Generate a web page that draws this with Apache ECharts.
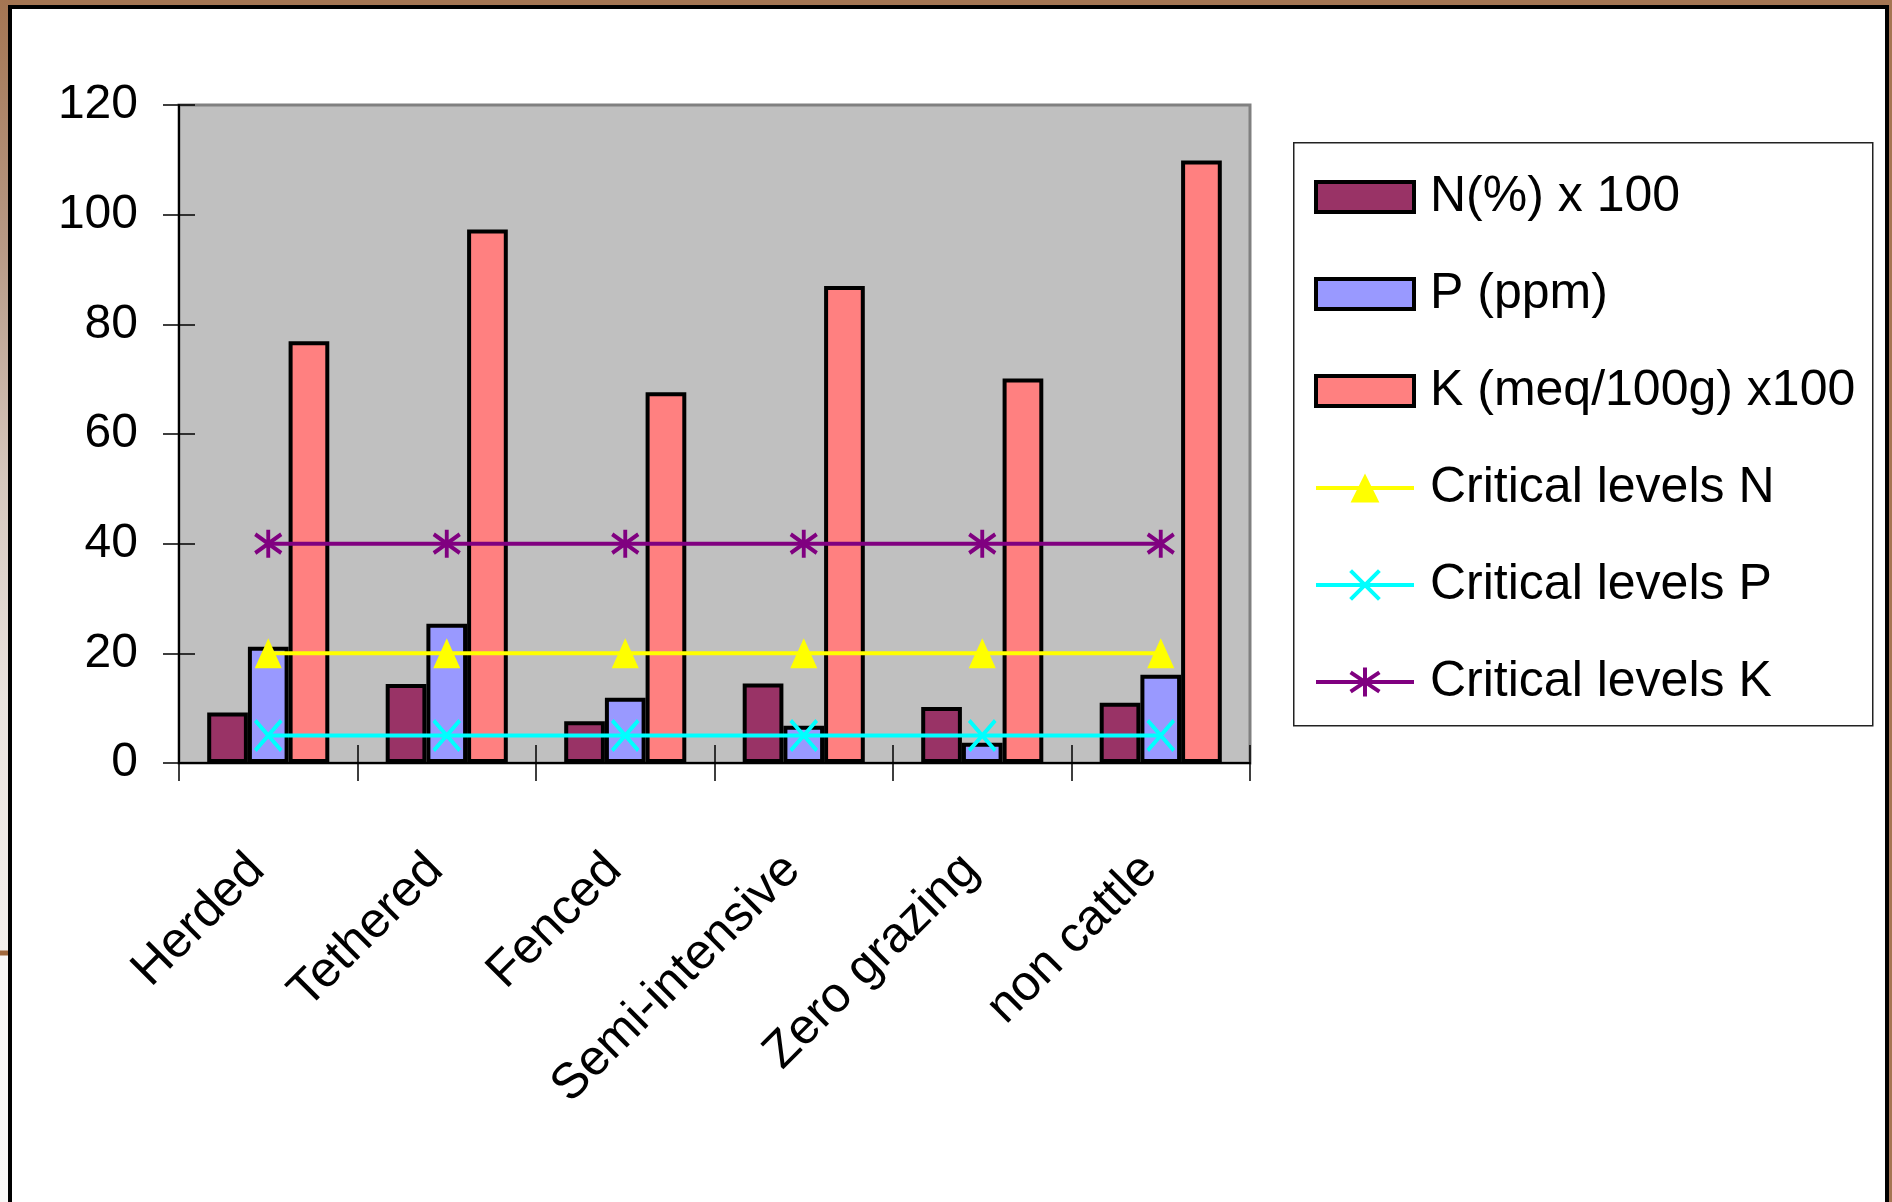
<!DOCTYPE html>
<html>
<head>
<meta charset="utf-8">
<script src="https://cdn.jsdelivr.net/npm/echarts@6/dist/echarts.min.js"></script>
<style>
  html, body { margin: 0; padding: 0; width: 1892px; height: 1202px; overflow: hidden; background: #ffffff; }
  #topstrip { position: absolute; left: 0; top: 0; width: 1892px; height: 5px; background: #A47552; }
  #leftstrip { position: absolute; left: 0; top: 0; width: 8px; height: 1202px;
    background: linear-gradient(to bottom, #A47552 0px, #B89A86 250px, #D6C8BE 480px, #EAE3DE 700px, #F3EFEB 950px, #A0683C 951px, #A0683C 955px, #F8F6F4 956px, #F9F8F7 1202px); }
  #rightstrip { position: absolute; left: 1889px; top: 0; width: 3px; height: 1202px; background: #A47552; }
  #frame { position: absolute; left: 8px; top: 5px; width: 1881px; height: 1197px; background: #ffffff;
    border-left: 4px solid #000; border-top: 4px solid #000; border-right: 4px solid #000; box-sizing: border-box; }
  #chart { position: absolute; left: 0; top: 0; width: 1892px; height: 1202px; }
</style>
</head>
<body>
<div id="topstrip"></div>
<div id="leftstrip"></div>
<div id="rightstrip"></div>
<div id="frame"></div>
<div id="chart"></div>
<script>
// ---- data ----
var categories = ['Herded', 'Tethered', 'Fenced', 'Semi-intensive', 'Zero grazing', 'non cattle'];
var seriesNames = ['N(%) x 100', 'P (ppm)', 'K (meq/100g) x100', 'Critical levels N', 'Critical levels P', 'Critical levels K'];
var nValues = [9.2, 14.4, 7.6, 14.5, 10.2, 11.0];
var pValues = [21.2, 25.4, 11.9, 6.8, 3.7, 16.1];
var kValues = [76.9, 97.3, 67.6, 87.0, 70.1, 109.9];
var critN = [20, 20, 20, 20, 20, 20];
var critP = [5, 5, 5, 5, 5, 5];
var critK = [40, 40, 40, 40, 40, 40];
var yTicks = [0, 20, 40, 60, 80, 100, 120];

var FONT = '"Liberation Sans", Arial, sans-serif';
var chart = echarts.init(document.getElementById('chart'), null, { renderer: 'canvas' });

var gridLeft = 179, gridTop = 105, gridW = 1071, gridH = 658;

var xSymbol = 'path://M0,0L10,12M10,0L0,12';
var starSymbol = 'path://M5,0L5,12M0,2L10,10M0,10L10,2';
var swatchIcon = 'path://M0,0L98,0L98,30L0,30Z';
var lineColors = ['#FFFF00', '#00FFFF', '#800080'];

function barSeries(name, data, color) {
  return {
    name: name, type: 'bar', data: data, barWidth: 40.7, barGap: '0%',
    itemStyle: { color: color, borderColor: '#000', borderWidth: 4 },
    xAxisIndex: 0, yAxisIndex: 0, z: 2
  };
}
function lineSeries(name, data, color, symbol, size) {
  return {
    name: name, type: 'line', data: data, symbol: symbol, symbolSize: size,
    showSymbol: true, showAllSymbol: true,
    lineStyle: { color: color, width: 4 },
    itemStyle: { color: color, borderColor: color, borderWidth: symbol === 'triangle' ? 0 : 4 },
    xAxisIndex: 0, yAxisIndex: 0, z: 5, animation: false
  };
}

var legendData = seriesNames.map(function (n, i) {
  if (i < 3) return { name: n, icon: swatchIcon, itemStyle: { borderColor: '#000', borderWidth: 4 } };
  var c = lineColors[i - 3];
  return { name: n, lineStyle: { color: c, width: 4 },
           itemStyle: { color: c, borderColor: c, borderWidth: i === 3 ? 0 : 4 } };
});

var option = {
  animation: false,
  textStyle: { fontFamily: FONT },
  grid: { left: gridLeft, top: gridTop, width: gridW, height: gridH, show: true,
          backgroundColor: '#C0C0C0', borderColor: '#808080', borderWidth: 3, containLabel: false },
  legend: {
    orient: 'vertical', left: 1314, top: 167, padding: 0, itemWidth: 98, itemHeight: 36, itemGap: 37,
    symbolKeepAspect: true,
    data: legendData,
    lineStyle: { width: 4 },
    textStyle: { fontFamily: FONT, fontSize: 50, color: '#000', lineHeight: 60, padding: [0, 0, 0, 11] },
    selectedMode: false
  },
  graphic: [{
    type: 'rect', left: 1293, top: 142, z: -1,
    shape: { width: 579, height: 583 },
    style: { fill: '#fff', stroke: '#222', lineWidth: 1.5 }
  }],
  xAxis: [{
    type: 'category', data: categories, position: 'bottom',
    axisLine: { show: true, onZero: false, lineStyle: { color: '#000', width: 2 } },
    axisTick: { show: true, inside: false, length: 18, lineStyle: { color: '#000', width: 1.5 } },
    axisLabel: { show: true, rotate: 45, interval: 0, margin: 88, fontFamily: FONT, fontSize: 50,
                 color: '#000', lineHeight: 50, padding: [0, 16, 0, 0] },
    splitLine: { show: false }
  }, {
    type: 'category', data: categories, position: 'bottom', gridIndex: 0,
    axisLine: { show: false }, axisLabel: { show: false },
    axisTick: { show: true, inside: true, length: 18, lineStyle: { color: '#000', width: 1.5 } },
    splitLine: { show: false }
  }],
  yAxis: [{
    type: 'value', min: 0, max: 120, interval: 20, position: 'left',
    axisLine: { show: true, lineStyle: { color: '#000', width: 2 } },
    axisTick: { show: true, inside: false, length: 16, lineStyle: { color: '#000', width: 1.5 } },
    axisLabel: { show: true, margin: 41, fontFamily: FONT, fontSize: 48, color: '#000',
                 formatter: function (v) { return yTicks.indexOf(v) >= 0 ? String(v) : ''; } },
    splitLine: { show: false }
  }, {
    type: 'value', min: 0, max: 120, interval: 20, position: 'left', gridIndex: 0,
    axisLine: { show: false }, axisLabel: { show: false },
    axisTick: { show: true, inside: true, length: 16, lineStyle: { color: '#000', width: 1.5 } },
    splitLine: { show: false }
  }],
  series: [
    barSeries(seriesNames[0], nValues, '#993366'),
    barSeries(seriesNames[1], pValues, '#9999FF'),
    barSeries(seriesNames[2], kValues, '#FF8080'),
    lineSeries(seriesNames[3], critN, lineColors[0], 'triangle', [27, 30]),
    lineSeries(seriesNames[4], critP, lineColors[1], xSymbol, [26, 30]),
    lineSeries(seriesNames[5], critK, lineColors[2], starSymbol, [26, 28])
  ]
};
chart.setOption(option);
</script>
</body>
</html>
